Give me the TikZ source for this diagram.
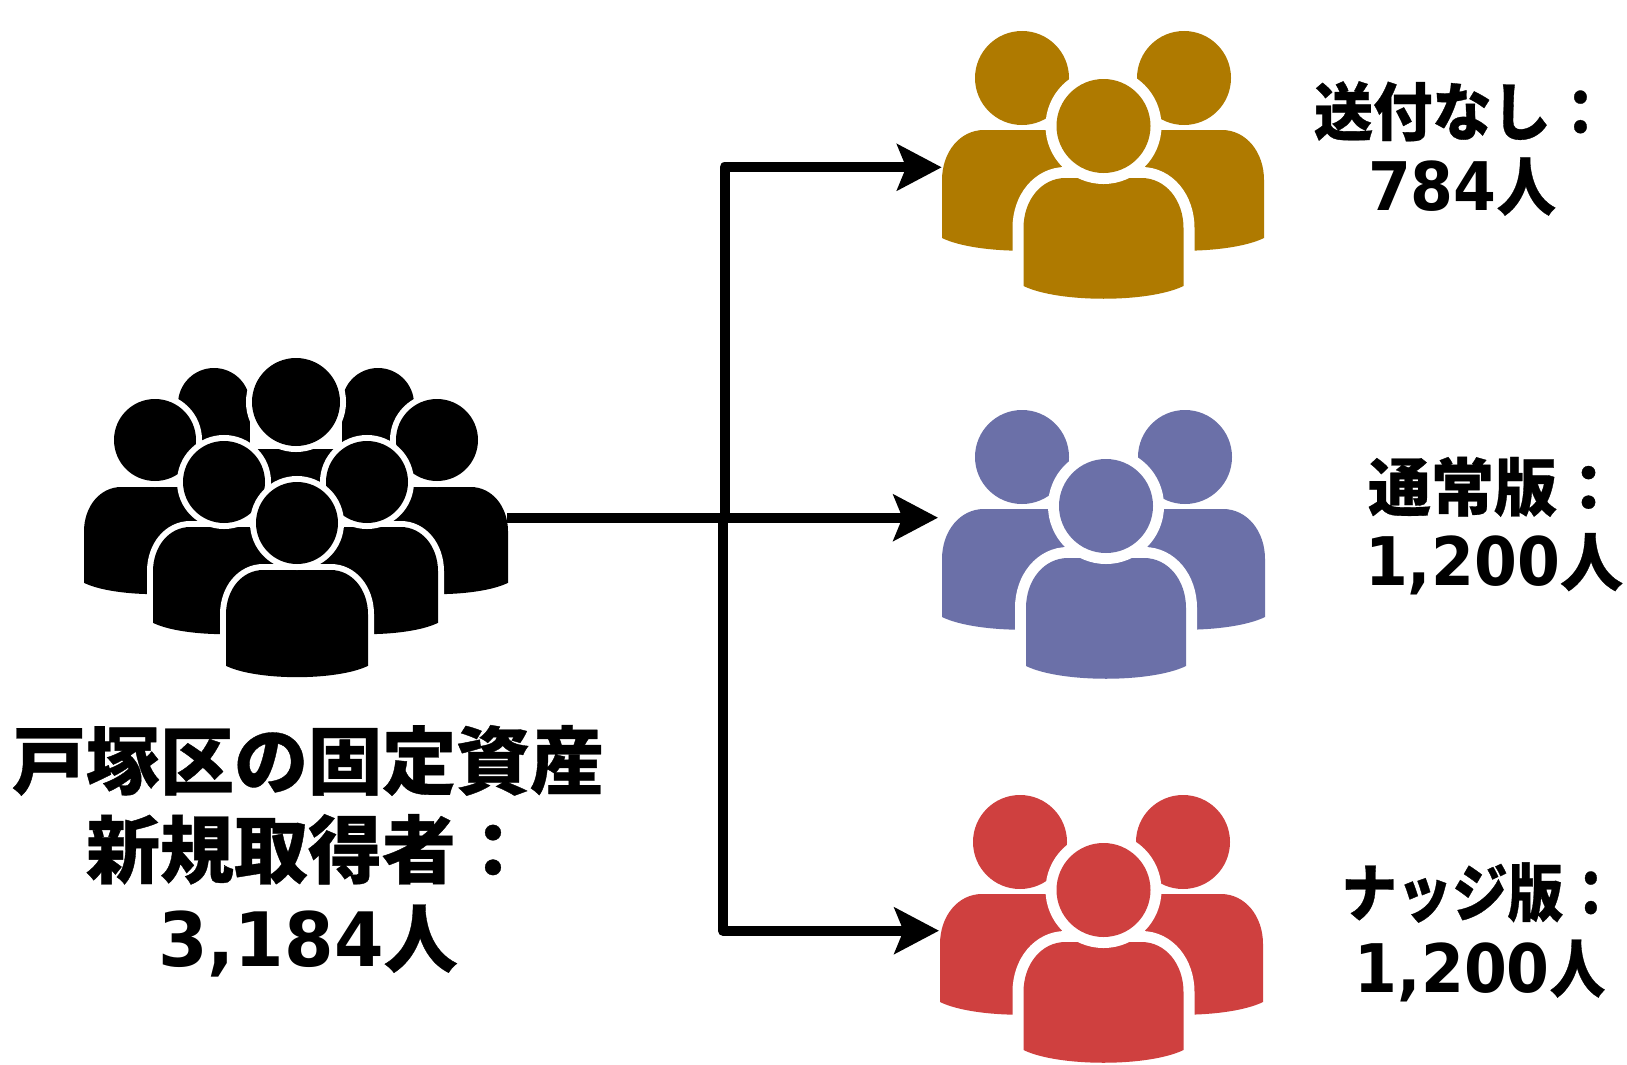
\documentclass[tikz,border=0pt]{standalone}
\usepackage{fontspec}
\usetikzlibrary{arrows.meta}
\setmainfont{Noto Sans CJK JP}
\newfontfamily\jpwide[BoldFeatures={FakeBold=0.5}]{Noto Sans CJK JP}
\newfontfamily\jpA[BoldFeatures={FakeStretch=0.94,FakeBold=0.5}]{Noto Sans CJK JP}
\newfontfamily\jpB[BoldFeatures={FakeBold=0.5}]{Noto Sans CJK JP}
\newfontfamily\jpC[BoldFeatures={FakeStretch=0.88,FakeBold=0.5}]{Noto Sans CJK JP}
\newfontfamily\digwide[FakeStretch=0.95]{DejaVu Sans}
\newfontfamily\dignarrow[FakeStretch=0.92]{DejaVu Sans}
\definecolor{brownc}{RGB}{175,122,0}
\definecolor{purplec}{RGB}{107,112,168}
\definecolor{redc}{RGB}{207,64,63}
% #1 x, #2 head y, #3 head radius, #4 body top offset, #5 body scale, #6 colour, #7 halo line width
\newcommand{\onePerson}[7]{%
  \begin{scope}[shift={(#1,#2)}]
    \begin{scope}[shift={(0,#4)},scale=#5]
      \fill[#6,preaction={draw=white,line width=#7}] (-80,108) -- (-80,50) .. controls (-80,22) and (-62,0) .. (-38,0)
        -- (38,0) .. controls (62,0) and (80,22) .. (80,50) -- (80,108)
        .. controls (45,125) and (-45,125) .. (-80,108) -- cycle;
    \end{scope}
    \fill[#6,preaction={draw=white,line width=#7}] (0,0) circle[radius=#3];
  \end{scope}}
% #1 left head x, #2 right head x, #3 back head y, #4 front head x, #5 front head y, #6 colour
\newcommand{\threePeople}[6]{%
  \onePerson{#1}{#3}{47}{52}{1}{#6}{0pt}
  \onePerson{#2}{#3}{47}{52}{1}{#6}{0pt}
  \onePerson{#4}{#5}{47}{52}{1}{#6}{22pt}}
\tikzset{
  iconbox/.style={inner sep=0pt,outer sep=0pt,minimum height=20pt},
  link/.style={draw=black,line width=10pt,line join=round},
  tiplink/.style={link,-{Stealth[length=44.5pt,width=46pt,inset=9pt]}},
  leftlabel/.style={inner sep=0pt,outer sep=0pt,align=center,font=\bfseries\jpwide\fontsize{74}{89}\selectfont},
  rightA/.style={inner sep=0pt,outer sep=0pt,align=center,font=\bfseries\jpA\fontsize{63}{75}\selectfont},
  rightB/.style={inner sep=0pt,outer sep=0pt,align=center,font=\bfseries\jpB\fontsize{63}{75}\selectfont},
  rightC/.style={inner sep=0pt,outer sep=0pt,align=center,font=\bfseries\jpC\fontsize{63}{76}\selectfont}
}
\newcommand{\numtext}[1]{{\dignarrow\fontsize{67}{72}\selectfont #1}}
\begin{document}
\begin{tikzpicture}[x=1pt,y=-1pt]
\useasboundingbox (0,0) rectangle (1627,1065);
% black crowd
\fill[black] (214,404) circle[radius=36];
\fill[black] (378,404) circle[radius=36];
\fill[black] (200,400) rectangle (250,445);
\fill[black] (342,400) rectangle (392,445);
\onePerson{296}{402}{44}{47}{0.8875}{black}{12pt}
\onePerson{155}{440}{41}{47}{0.8875}{black}{12pt}
\onePerson{437}{440}{41}{47}{0.8875}{black}{12pt}
\onePerson{224}{482}{41}{45}{0.8875}{black}{12pt}
\onePerson{367}{482}{41}{45}{0.8875}{black}{12pt}
\onePerson{297}{523}{41}{47}{0.8875}{black}{12pt}
% coloured groups
\threePeople{1022}{1184}{78}{1103.5}{126}{brownc}
\threePeople{1022}{1185}{457}{1106}{506}{purplec}
\threePeople{1020}{1183}{842}{1103.5}{890}{redc}
% anchors
\node[iconbox,minimum width=423pt] (crowd) at (295.5,517.7) {};
\node[iconbox,minimum width=322pt] (groupA) at (1102.7,167.3) {};
\node[iconbox,minimum width=326pt] (groupB) at (1101,517.7) {};
\node[iconbox,minimum width=324pt] (groupC) at (1101,930.7) {};
\coordinate (juncUp) at (724.5,517.7);
\coordinate (juncDown) at (722.8,517.7);
\draw[tiplink] (juncUp) |- (groupA.west);
\draw[tiplink] (juncDown) |- (groupC.west);
\draw[tiplink] (crowd.east) -- (groupB.west);
% labels
\node[leftlabel] (srcText) at (308,851) {戸塚区の固定資産\\新規取得者：\\{\digwide\fontsize{75}{89}\selectfont 3,184}人};
\node[rightA] (textA) at (1462,148.5) {送付なし：\\\numtext{784}人};
\node[rightB] (textB) at (1494,526) {通常版：\\\numtext{1,200}人};
\node[rightC] (textC) at (1480,932) {ナッジ版：\\\numtext{1,200}人};
\end{tikzpicture}
\end{document}
